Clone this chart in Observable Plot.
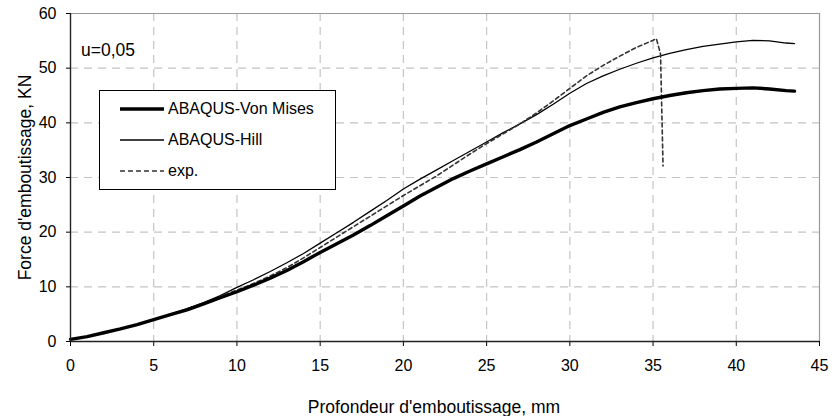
<!DOCTYPE html>
<html>
<head>
<meta charset="utf-8">
<script src="https://cdn.jsdelivr.net/npm/d3@7"></script>
<script src="https://cdn.jsdelivr.net/npm/@observablehq/plot@0.6"></script>
<style>
  html, body { margin: 0; padding: 0; background: #fff; }
  #wrap { position: relative; width: 832px; height: 416px; font-family: "Liberation Sans", Arial, sans-serif; }
  #legend { position: absolute; left: 99px; top: 90px; width: 237px; height: 100px; border: 1.3px solid #000; background: #fff; box-sizing: border-box; }
  .li { position: absolute; left: 20px; height: 20px; display: flex; align-items: center; font-size: 16px; color: #000; }
  .li svg { margin-right: 4px; }
  #note { position: absolute; left: 81px; top: 39px; font-size: 17.5px; color: #000; line-height: 22px; }
</style>
</head>
<body>
<div id="wrap"></div>
<script>
// Depth (mm) for the two simulation curves
const depthSim = [0,1,2,3,4,5,6,7,8,9,10,11,12,13,14,15,16,17,18,19,20,21,22,23,24,25,26,27,28,29,30,31,32,33,34,35,36,37,38,39,40,41,42,43,43.5];
// Force (kN) ABAQUS-Von Mises
const vonMises = [0.4,0.9,1.6,2.3,3.1,4.0,4.9,5.8,6.9,8.0,9.1,10.3,11.6,13.0,14.6,16.3,17.9,19.5,21.2,23.0,24.8,26.6,28.2,29.8,31.2,32.5,33.8,35.1,36.5,38.0,39.5,40.7,41.9,42.9,43.7,44.4,45.0,45.5,45.9,46.2,46.3,46.4,46.2,45.9,45.8];
// Force (kN) ABAQUS-Hill
const hill = [0.4,0.9,1.6,2.3,3.1,4.0,5.0,6.0,7.1,8.4,9.9,11.3,12.8,14.4,16.1,18.0,19.9,21.8,23.8,25.8,27.9,29.7,31.4,33.1,34.8,36.5,38.2,39.8,41.5,43.4,45.4,47.2,48.6,49.8,50.9,51.9,52.7,53.4,54.0,54.4,54.8,55.1,55.0,54.6,54.5];
// Experimental curve
const depthExp = [0,1,2,3,4,5,6,7,8,9,10,11,12,13,14,15,16,17,18,19,20,21,22,23,24,25,26,27,28,29,30,31,32,33,34,35,35.2,35.45,35.6];
const exp = [0.4,0.9,1.6,2.3,3.1,4.0,4.9,5.9,7.0,8.2,9.4,10.6,12.0,13.5,15.3,17.2,19.1,21.0,22.9,24.8,26.7,28.5,30.3,32.3,34.3,36.2,38.0,39.8,41.8,44.0,46.3,48.6,50.5,52.2,53.8,55.1,55.4,52.6,32.1];

const xTicks = [0,5,10,15,20,25,30,35,40,45];
const yTicks = [0,10,20,30,40,50,60];
const xGrid = [5,10,15,20,25,30,35,40];
const yGrid = [10,20,30,40,50];

const seriesNames = ["ABAQUS-Von Mises", "ABAQUS-Hill", "exp."];
const note = "u=0,05";
const xLabel = "Profondeur d'emboutissage, mm";
const yLabel = "Force d'emboutissage, KN";

const vmData = depthSim.map((d, i) => ({d, f: vonMises[i]}));
const hillData = depthSim.map((d, i) => ({d, f: hill[i]}));
const expData = depthExp.map((d, i) => ({d, f: exp[i]}));

const chart = Plot.plot({
  width: 832,
  height: 416,
  marginLeft: 70,
  marginRight: 13,
  marginTop: 13,
  marginBottom: 75,
  style: {fontFamily: "'Liberation Sans', Arial, sans-serif", fontSize: "16px", color: "#000", background: "#fff"},
  x: {domain: [0, 45]},
  y: {domain: [0, 60]},
  marks: [
    Plot.gridX(xGrid, {stroke: "#c4c4c4", strokeOpacity: 1, strokeWidth: 1.2, strokeDasharray: "8,6"}),
    Plot.gridY(yGrid, {stroke: "#c4c4c4", strokeOpacity: 1, strokeWidth: 1.2, strokeDasharray: "8,6"}),
    Plot.ruleY([60], {stroke: "#999", strokeWidth: 1.2}),
    Plot.ruleX([45], {stroke: "#999", strokeWidth: 1.2}),
    Plot.axisX(xTicks, {tickSize: 5, tickPadding: 13, fontSize: 16, label: null}),
    Plot.axisY(yTicks, {tickSize: 4, tickPadding: 10, fontSize: 16, label: null}),
    Plot.text([xLabel], {frameAnchor: "bottom", lineAnchor: "bottom", dy: 71, dx: -11, fontSize: 17.5, fill: "#000"}),
    Plot.axisY({label: yLabel, labelAnchor: "center", labelArrow: false, labelOffset: 52, ticks: [], tickSize: 0, fontSize: 17.5}),
    Plot.line(hillData, {x: "d", y: "f", stroke: "#000", strokeWidth: 1.3}),
    Plot.line(expData, {x: "d", y: "f", stroke: "#333", strokeWidth: 1.6, strokeDasharray: "4,3"}),
    Plot.line(vmData, {x: "d", y: "f", stroke: "#000", strokeWidth: 3.4}),
    Plot.ruleX([0], {stroke: "#222", strokeWidth: 1.4}),
    Plot.ruleY([0], {stroke: "#222", strokeWidth: 1.4})
  ]
});

const wrap = document.getElementById("wrap");
wrap.appendChild(chart);

const noteDiv = document.createElement("div");
noteDiv.id = "note";
noteDiv.textContent = note;
wrap.appendChild(noteDiv);

const legend = document.createElement("div");
legend.id = "legend";
const styles = [
  {w: 3.4, dash: null, c: "#000"},
  {w: 1.3, dash: null, c: "#000"},
  {w: 1.6, dash: "5,3", c: "#333"}
];
const tops = [8, 39, 70];
seriesNames.forEach((name, i) => {
  const row = document.createElement("div");
  row.className = "li";
  row.style.top = tops[i] + "px";
  const s = styles[i];
  row.innerHTML = `<svg width="44" height="10"><line x1="0" y1="5" x2="44" y2="5" stroke="${s.c}" stroke-width="${s.w}" ${s.dash ? `stroke-dasharray="${s.dash}"` : ""}/></svg><span>${name}</span>`;
  legend.appendChild(row);
});
wrap.appendChild(legend);
</script>
</body>
</html>
